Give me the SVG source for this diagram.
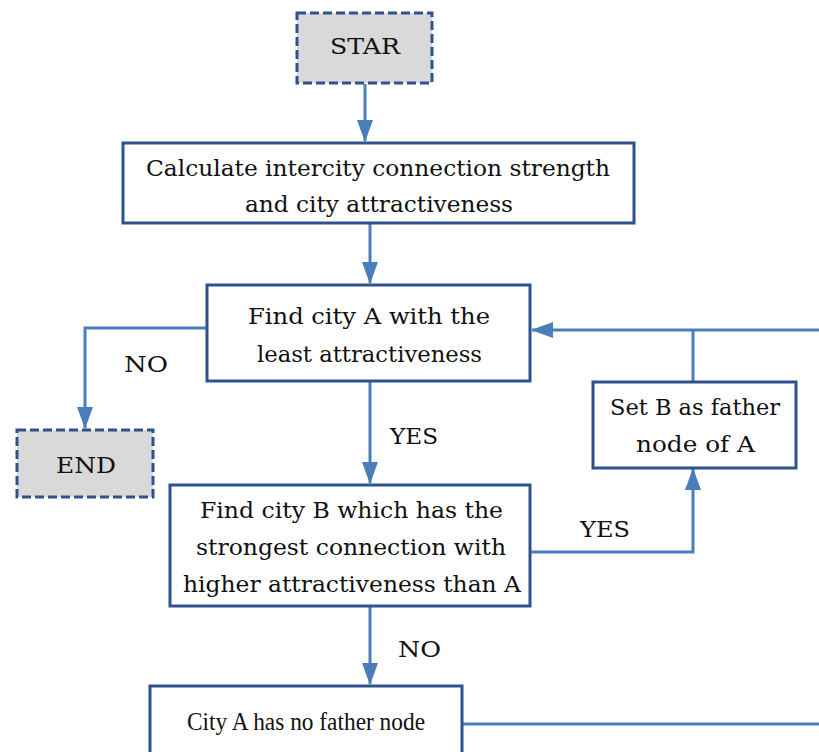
<svg xmlns="http://www.w3.org/2000/svg" width="819" height="752" viewBox="0 0 819 752">
<defs>
<marker id="ah" markerWidth="22" markerHeight="16" refX="21" refY="8" orient="auto" markerUnits="userSpaceOnUse" viewBox="0 0 22 16">
<path d="M0,0 L22,8 L0,16 z" fill="#4a7ebb"/>
</marker>
<style>
.box{fill:#fff;stroke:#2f528f;stroke-width:3}
.term{fill:#d9d9d9;stroke:#2f528f;stroke-width:3;stroke-dasharray:9 4}
.t{font-family:"DejaVu Serif","Liberation Serif",serif;font-size:22px;fill:#111}
.ls{font-family:"Liberation Serif",serif;font-size:25px}
.c{fill:none;stroke:#4a7ebb;stroke-width:3}
</style>
</defs>
<rect width="819" height="752" fill="#fff"/>
<g id="connectors">
<path class="c" d="M365,84 V141" marker-end="url(#ah)"/>
<path class="c" d="M370,224 V283" marker-end="url(#ah)"/>
<path class="c" d="M207,328 H85 V428" marker-end="url(#ah)"/>
<path class="c" d="M370,382 V483" marker-end="url(#ah)"/>
<path class="c" d="M531,552 H693 V469" marker-end="url(#ah)"/>
<path class="c" d="M693,382 V330"/>
<path class="c" d="M819,330 H532" marker-end="url(#ah)"/>
<path class="c" d="M370,607 V684" marker-end="url(#ah)"/>
<path class="c" d="M462,724 H819"/>
<text class="t" x="124" y="372" textLength="44" lengthAdjust="spacingAndGlyphs">NO</text>
<text class="t" x="390" y="444" textLength="48" lengthAdjust="spacingAndGlyphs">YES</text>
<text class="t" x="580" y="537" textLength="50" lengthAdjust="spacingAndGlyphs">YES</text>
<text class="t" x="398" y="657" textLength="43" lengthAdjust="spacingAndGlyphs">NO</text>
</g>
<g id="start">
<rect class="term" x="297" y="13" width="135" height="70"/>
<text class="t" x="330" y="54" textLength="70" lengthAdjust="spacingAndGlyphs">STAR</text>
</g>
<g id="calc">
<rect class="box" x="123" y="143" width="511" height="80"/>
<text class="t" x="146" y="176" textLength="464" lengthAdjust="spacingAndGlyphs">Calculate intercity connection strength</text>
<text class="t" x="245" y="212" textLength="268" lengthAdjust="spacingAndGlyphs">and city attractiveness</text>
</g>
<g id="findA">
<rect class="box" x="207" y="285" width="323" height="96"/>
<text class="t" x="248" y="324" textLength="242" lengthAdjust="spacingAndGlyphs">Find city A with the</text>
<text class="t" x="257" y="362" textLength="225" lengthAdjust="spacingAndGlyphs">least attractiveness</text>
</g>
<g id="end">
<rect class="term" x="17" y="430" width="136" height="67"/>
<text class="t" x="56" y="473" textLength="60" lengthAdjust="spacingAndGlyphs">END</text>
</g>
<g id="findB">
<rect class="box" x="170" y="485" width="360" height="121"/>
<text class="t" x="200" y="518" textLength="303" lengthAdjust="spacingAndGlyphs">Find city B which has the</text>
<text class="t" x="196" y="555" textLength="310" lengthAdjust="spacingAndGlyphs">strongest connection with</text>
<text class="t" x="183" y="592" textLength="338" lengthAdjust="spacingAndGlyphs">higher attractiveness than A</text>
</g>
<g id="setB">
<rect class="box" x="593" y="382" width="203" height="86"/>
<text class="t" x="610" y="415" textLength="170" lengthAdjust="spacingAndGlyphs">Set B as father</text>
<text class="t" x="636" y="452" textLength="119" lengthAdjust="spacingAndGlyphs">node of A</text>
</g>
<g id="noFather">
<rect class="box" x="150" y="686" width="312" height="80"/>
<text class="t ls" x="187" y="730" textLength="238" lengthAdjust="spacingAndGlyphs">City A has no father node</text>
</g>
</svg>
